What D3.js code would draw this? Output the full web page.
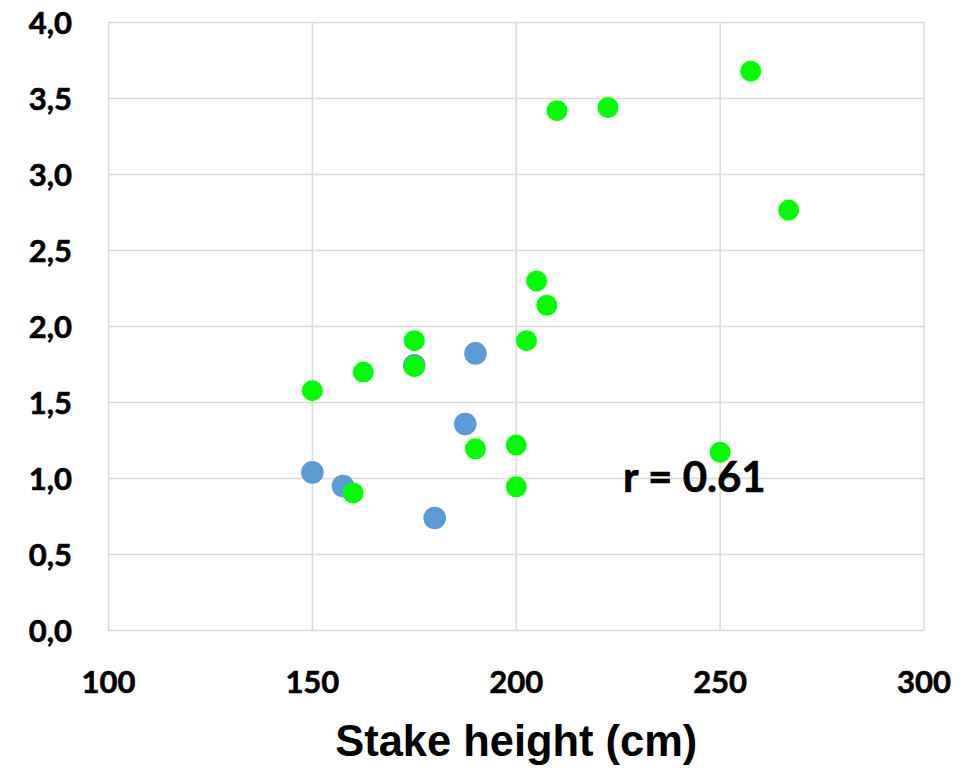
<!DOCTYPE html>
<html>
<head>
<meta charset="utf-8">
<script src="https://cdn.jsdelivr.net/npm/d3@7"></script>
<style>
	body { margin: 0; background: #ffffff; }
	.tick-label { font-family: Lato, "Open Sans", sans-serif; font-weight: 700; font-size: 31px; fill: #000000; stroke: #000000; stroke-width: 0.6px; }
	.axis-title { font-family: "Liberation Sans", Arial, sans-serif; font-weight: 700; font-size: 45px; fill: #000000; }
	.r-label { font-family: Lato, "Open Sans", sans-serif; font-weight: 700; font-size: 42px; fill: #000000; stroke: #000000; stroke-width: 0.6px; }
</style>
</head>
<body>
<div class="scatter-container"></div>
<script>

// stake height (cm) vs value, two groups
const blueX = [150, 157.5, 175, 190, 187.5, 180];
const blueY = [1.04, 0.95, 1.745, 1.823, 1.358, 0.74];

const greenX = [150, 162.5, 175, 175, 190, 160, 200, 200, 202.5, 205, 207.5, 210, 222.5, 257.5, 266.8, 250];
const greenY = [1.578, 1.70, 1.907, 1.736, 1.196, 0.905, 1.22, 0.945, 1.907, 2.30, 2.14, 3.42, 3.44, 3.68, 2.766, 1.173];

const xTicks = [100, 150, 200, 250, 300];
const yTicks = [0, 0.5, 1, 1.5, 2, 2.5, 3, 3.5, 4];

const xTitle = 'Stake height (cm)';
const rText = 'r = 0.61';
const rPos = [226.2, 0.914];

let width = 968;
let height = 770;

let x = d3.scaleLinear()
.domain([100, 300])
.range([108.5, 924]);

let y = d3.scaleLinear()
.domain([0, 4])
.range([630.5, 22.5]);

const svg = d3.select('.scatter-container')
.append('svg')
.attr('width', width)
.attr('height', height);

const grid = svg.append('g');
const dots = svg.append('g');
const labels = svg.append('g');

grid.selectAll('.h-line')
.data(yTicks)
.enter()
.append('line')
.attr('class', 'h-line')
.attr('x1', x(100))
.attr('x2', x(300))
.attr('y1', d => y(d))
.attr('y2', d => y(d))
.attr('stroke', '#d9d9d9')
.attr('stroke-width', 1.5);

grid.selectAll('.v-line')
.data(xTicks)
.enter()
.append('line')
.attr('class', 'v-line')
.attr('y1', y(0))
.attr('y2', y(4))
.attr('x1', d => x(d))
.attr('x2', d => x(d))
.attr('stroke', '#d9d9d9')
.attr('stroke-width', 1.5);

// blue first, green sits on top
dots.selectAll('.blue')
.data(blueX.map((d, i) => [d, blueY[i]]))
.enter()
.append('circle')
.attr('class', 'blue')
.attr('cx', d => x(d[0]))
.attr('cy', d => y(d[1]))
.attr('r', 11.3)
.attr('fill', '#5b9bd5');

dots.selectAll('.green')
.data(greenX.map((d, i) => [d, greenY[i]]))
.enter()
.append('circle')
.attr('class', 'green')
.attr('cx', d => x(d[0]))
.attr('cy', d => y(d[1]))
.attr('r', 10.5)
.attr('fill', '#00ff00');

labels.selectAll('.y-label')
.data(yTicks)
.enter()
.append('text')
.attr('class', 'tick-label y-label')
.attr('x', 72)
.attr('y', d => y(d) + 11)
.attr('text-anchor', 'end')
.text(d => d3.format('.1f')(d).replace('.', ','));

labels.selectAll('.x-label')
.data(xTicks)
.enter()
.append('text')
.attr('class', 'tick-label x-label')
.attr('x', d => x(d))
.attr('y', 693)
.attr('text-anchor', 'middle')
.text(d => d);

labels.append('text')
.attr('class', 'axis-title')
.attr('x', (x(100) + x(300)) / 2)
.attr('y', 756)
.attr('text-anchor', 'middle')
.attr('textLength', 362)
.attr('lengthAdjust', 'spacingAndGlyphs')
.text(xTitle);

labels.append('text')
.attr('class', 'r-label')
.attr('x', x(rPos[0]))
.attr('y', y(rPos[1]))
.text(rText);

</script>
</body>
</html>
